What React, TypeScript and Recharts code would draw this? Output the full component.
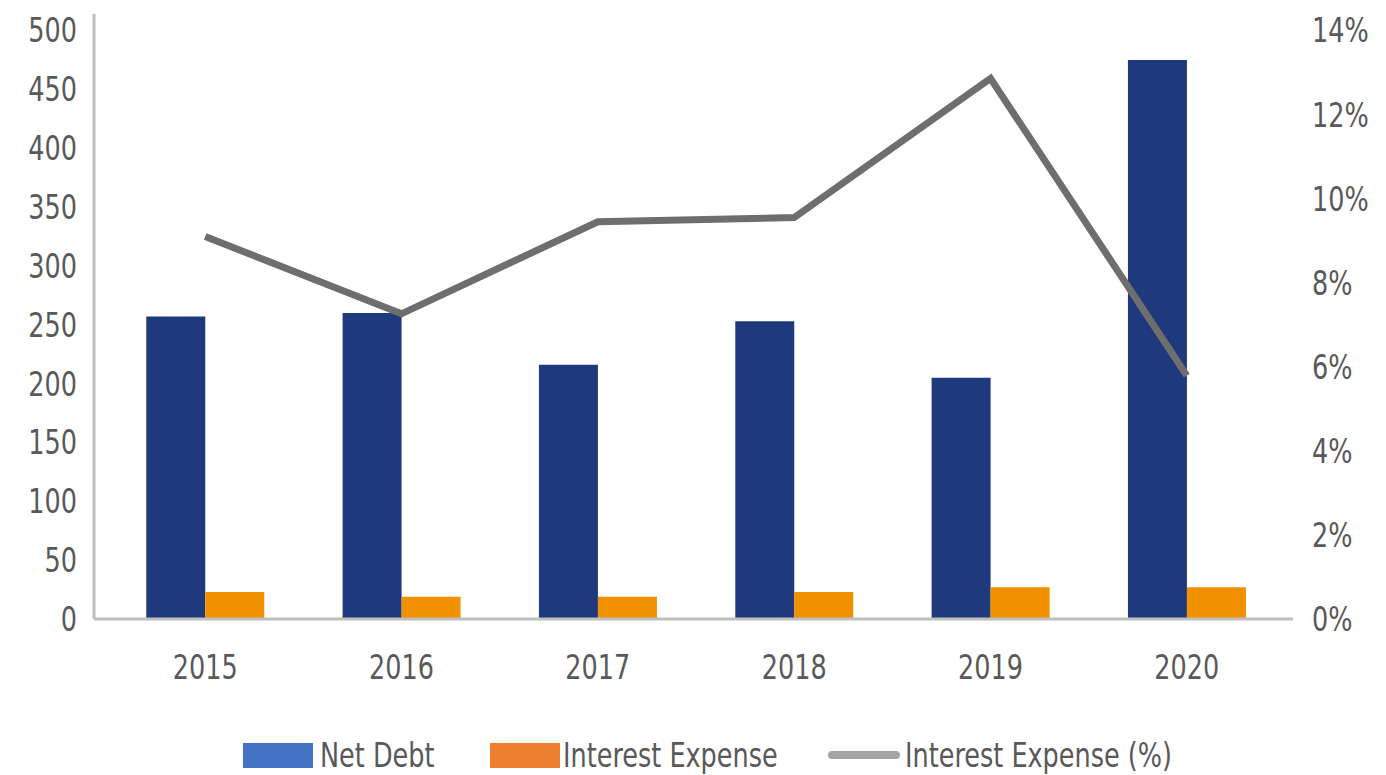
import React from "react";
import { ComposedChart, Bar, Line, XAxis, YAxis, Legend } from "recharts";

const years = ["2015", "2016", "2017", "2018", "2019", "2020"];
const netDebt = [257, 260, 216, 253, 205, 475];
const interestExpense = [23, 19, 19, 23, 27, 27];
const interestPct = [9.1, 7.26, 9.45, 9.55, 12.86, 5.79];
const leftTicks = [0, 50, 100, 150, 200, 250, 300, 350, 400, 450, 500];
const rightTicks = [0, 2, 4, 6, 8, 10, 12, 14];

const data = years.map((y, i) => ({
  year: y,
  netDebt: netDebt[i],
  interest: interestExpense[i],
  pct: interestPct[i],
}));

const FONT = '"DejaVu Sans Condensed", "DejaVu Sans", sans-serif';
const TXT = "#595959";
const SX = 0.86;

const makeTick = (anchor: "start" | "middle" | "end", dy: number, fmt?: (v: any) => string) =>
  (props: any) => {
    const { x, y, payload } = props;
    const label = fmt ? fmt(payload.value) : String(payload.value);
    return (
      <g transform={`translate(${x},${y}) scale(${SX},1)`}>
        <text x={0} y={0} dy={dy} textAnchor={anchor} fill={TXT} fontSize={33} fontFamily={FONT}>
          {label}
        </text>
      </g>
    );
  };

const legendItems = [
  { label: "Net Debt", color: "#4472c4", type: "box", x: 243, tx: 320 },
  { label: "Interest Expense", color: "#ed7d31", type: "box", x: 490, tx: 563 },
  { label: "Interest Expense (%)", color: "#a5a5a5", type: "line", x: 828, tx: 905 },
];

const LegendContent = () => (
  <svg width={1386} height={70} style={{ display: "block", overflow: "visible" }}>
    {legendItems.map((it, i) => (
      <g key={i}>
        {it.type === "box" ? (
          <rect x={it.x} y={38} width={70} height={25} fill={it.color} />
        ) : (
          <line x1={it.x + 4} x2={it.x + 68} y1={50} y2={50} stroke={it.color} strokeWidth={8} strokeLinecap="round" />
        )}
        <g transform={`translate(${it.tx},50) scale(${SX},1)`}>
          <text x={0} y={0} dy={12} fill={TXT} fontSize={33} fontFamily={FONT}>
            {it.label}
          </text>
        </g>
      </g>
    ))}
  </svg>
);

export default function App() {
  return (
    <div style={{ position: "absolute", left: 0, top: 0, background: "#fff" }}>
      <ComposedChart
        width={1386}
        height={775}
        data={data}
        margin={{ top: 14, right: 0, bottom: 0, left: 0 }}
        barCategoryGap="20%"
        barGap={0}
      >
        <XAxis
          dataKey="year"
          axisLine={{ stroke: "#bfbfbf", strokeWidth: 3 }}
          tickLine={false}
          tick={makeTick("middle", 24)}
          tickMargin={30}
          height={86}
          padding={{ left: 13, right: 8 }}
        />
        <YAxis
          yAxisId="left"
          domain={[0, 514]}
          ticks={leftTicks}
          width={94}
          axisLine={{ stroke: "#bfbfbf", strokeWidth: 3 }}
          tickLine={false}
          tickMargin={11}
          tick={makeTick("end", 12)}
          interval={0}
        />
        <YAxis
          yAxisId="right"
          orientation="right"
          domain={[0, 14.392]}
          ticks={rightTicks}
          width={93}
          axisLine={false}
          tickLine={false}
          tickMargin={13}
          tick={makeTick("start", 12, (v: number) => `${v}%`)}
          interval={0}
        />
        <Bar yAxisId="left" dataKey="netDebt" name="Net Debt" fill="#1f3a7c" isAnimationActive={false} />
        <Bar yAxisId="left" dataKey="interest" name="Interest Expense" fill="#f29100" isAnimationActive={false} />
        <Line
          yAxisId="right"
          dataKey="pct"
          name="Interest Expense (%)"
          stroke="#6e6e6e"
          strokeWidth={7}
          dot={false}
          activeDot={false}
          isAnimationActive={false}
        />
        <Legend verticalAlign="bottom" height={70} content={<LegendContent />} />
      </ComposedChart>
    </div>
  );
}
